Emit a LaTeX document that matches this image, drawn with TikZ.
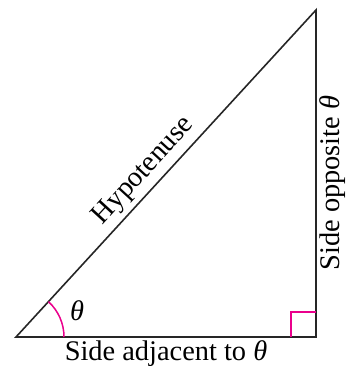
\documentclass[tikz,border=0pt]{standalone}
\usepackage{fontspec}
\setmainfont{Liberation Serif}
\usepackage{tikz}
\usetikzlibrary{positioning}

\definecolor{angpink}{RGB}{234,0,140}

\begin{document}
\begin{tikzpicture}[
  x=0.5pt, y=0.5pt,
  side/.style={line width=0.8pt, draw=black!85},
  angmark/.style={line width=0.75pt, draw=angpink},
  lbl/.style={font=\fontsize{14.2}{16}\selectfont, inner sep=0pt}
]
\useasboundingbox (0,0) rectangle (348,366);

\coordinate (A) at (16,29);
\coordinate (B) at (316,29);
\coordinate (C) at (316,356);

\draw[side] (A) -- (B) -- (C) -- cycle;

% angle and right-angle marks
\draw[angmark] ([shift={(0:48)}]A) arc[start angle=0, end angle=47.46, radius=48];
\draw[angmark] ([xshift=-12.5pt]B) |- ([yshift=12.5pt]B);

\node[lbl] (theta) at (77,55) {\textit{θ}};
\node[lbl, anchor=base] (adj) at (166,5) {Side adjacent to \textit{θ}};
\node[lbl, anchor=base, rotate=90] (opp) at (340,183) {Side opposite \textit{θ}};
\path (A) -- (C) node[lbl, pos=0.47, sloped, above=2.5pt] (hyp) {Hypotenuse};

\end{tikzpicture}
\end{document}
